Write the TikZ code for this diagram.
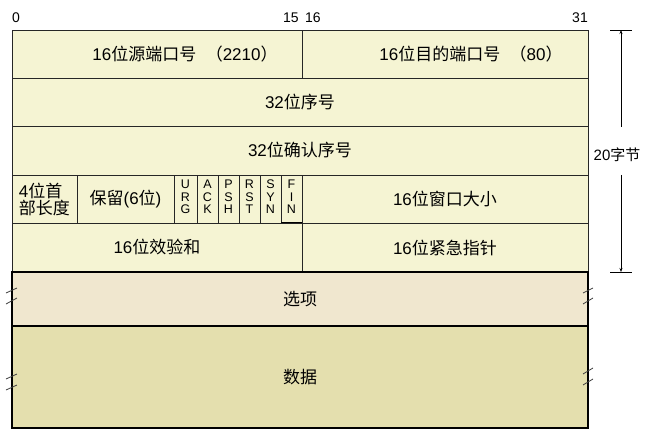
\documentclass[tikz,border=0pt]{standalone}
\usepackage{fontspec}
\setmainfont{Liberation Sans}
\newfontfamily\zhfont{Noto Sans CJK SC}
\newcommand\zh[1]{{\zhfont #1}}
\usetikzlibrary{arrows.meta}
\definecolor{topfill}{RGB}{245,244,211}
\definecolor{optfill}{RGB}{240,231,207}
\definecolor{datafill}{RGB}{228,223,174}
\begin{document}
\begin{tikzpicture}[x=1pt,y=-1pt,
  cell/.style={draw=black!85, line width=0.7pt, fill=topfill, anchor=north west,
    inner sep=0pt, outer sep=0pt, font=\fontsize{17}{17}\selectfont},
  bigcell/.style={draw=black, line width=2pt, anchor=north west,
    inner sep=0pt, outer sep=0pt, font=\fontsize{17}{17}\selectfont},
  flag/.style={cell, minimum height=48pt},
  flagtxt/.style={inner sep=0pt, align=center, font=\fontsize{12.5}{12.5}\selectfont, yshift=2pt},
  txt/.style={font=\fontsize{17}{17}\selectfont, inner sep=0pt},
  num/.style={font=\fontsize{14}{16}\selectfont, inner sep=0pt},
  brk/.style={draw=black!75, line width=0.8pt},
  dim/.style={draw=black, line width=0.7pt}]
\useasboundingbox (0,0) rectangle (649,444);
% header numbers
\node[num] (n0) at (16,18) {0};
\node[num] (n15) at (291,18) {15};
\node[num] (n16) at (313,18) {16};
\node[num] (n31) at (580,18) {31};
% row 1
\node[cell, minimum width=290pt, minimum height=48pt] (src) at (12,30) {};
\node[cell, minimum width=286pt, minimum height=48pt] (dst) at (302,30) {};
\node[txt] (srct) at (185,54) {16\zh{位源端口号}\ \ \zh{（}2210\zh{）}};
\node[txt] (dstt) at (471,54) {16\zh{位目的端口号}\ \ \zh{（}80\zh{）}};
% row 2, 3
\node[cell, minimum width=576pt, minimum height=48pt] (seq) at (12,78) {32\zh{位序号}};
\node[cell, minimum width=576pt, minimum height=49pt] (ackn) at (12,126) {32\zh{位确认序号}};
% row 4
\node[cell, minimum width=65pt, minimum height=48pt, align=left] (hlen) at (12,175) {4\zh{位首}\\\zh{部长度}};
\node[cell, minimum width=97pt, minimum height=48pt] (rsv) at (77,175) {\zh{保留}(6\zh{位})};
\node[flag, minimum width=23pt] (urg) at (174,175) {};
\node[flag, minimum width=21pt] (ackf) at (197,175) {};
\node[flag, minimum width=21pt] (psh) at (218,175) {};
\node[flag, minimum width=21pt] (rst) at (239,175) {};
\node[flag, minimum width=21pt] (syn) at (260,175) {};
\node[flag, minimum width=21pt] (fin) at (281,175) {};
\node[flagtxt] (urgt) at (urg.center) {U\\R\\G};
\node[flagtxt] (ackt) at (ackf.center) {A\\C\\K};
\node[flagtxt] (psht) at (psh.center) {P\\S\\H};
\node[flagtxt] (rstt) at (rst.center) {R\\S\\T};
\node[flagtxt] (synt) at (syn.center) {S\\Y\\N};
\node[flagtxt] (fint) at (fin.center) {F\\I\\N};
\draw[line width=1.5pt] (fin.south west) -- (fin.south east);
\node[cell, minimum width=286pt, minimum height=48pt] (win) at (302,175) {16\zh{位窗口大小}};
% row 5
\node[cell, minimum width=290pt, minimum height=49pt] (chk) at (12,223) {16\zh{位效验和}};
\node[cell, minimum width=286pt, minimum height=49pt] (urp) at (302,223) {16\zh{位紧急指针}};
% options & data
\node[bigcell, fill=optfill, minimum width=576pt, minimum height=54pt] (opt) at (12,272) {\zh{选项}};
\node[bigcell, fill=datafill, minimum width=576pt, minimum height=102pt] (data) at (12,326) {\zh{数据}};
% break marks
\draw[brk] (6,293) -- (17,288);
\draw[brk] (6,304) -- (17,298);
\draw[brk] (6,379) -- (17,374);
\draw[brk] (6,390) -- (17,385);
\draw[brk] (583,293) -- (593,288);
\draw[brk] (583,304) -- (593,298);
\draw[brk] (583,374) -- (593,368);
\draw[brk] (583,385) -- (593,379);
% 20 bytes dimension
\coordinate (bt) at (621,30);
\coordinate (bb) at (621,272);
\coordinate (bm1) at (621,127);
\coordinate (bm2) at (621,175);
\node[txt, font=\fontsize{15}{16}\selectfont] (bytes) at (617,155) {20\zh{字节}};
\draw[dim] ([xshift=-11pt]bt) -- ([xshift=11pt]bt);
\draw[dim] ([xshift=-11pt]bb) -- ([xshift=11pt]bb);
\draw[dim, -{Stealth[length=4pt,width=3pt]}] (bm1) -- (bt);
\draw[dim, -{Stealth[length=4pt,width=3pt]}] (bm2) -- (bb);
\end{tikzpicture}
\end{document}
